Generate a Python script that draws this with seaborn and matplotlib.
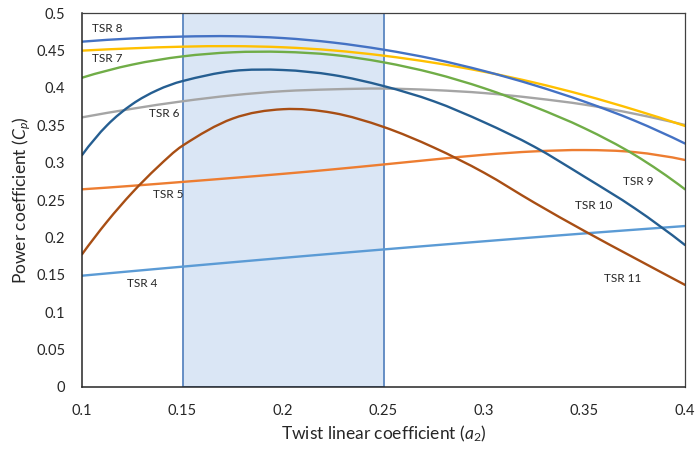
import numpy as np
import pandas as pd
import matplotlib
matplotlib.use("Agg")
import matplotlib.pyplot as plt
from matplotlib.path import Path
from matplotlib.patches import PathPatch
import seaborn as sns

# Twist linear coefficient grid (a2) and power coefficient per tip speed ratio
a2 = [0.1, 0.125, 0.15, 0.175, 0.2, 0.225, 0.25, 0.275, 0.3, 0.325, 0.35, 0.375, 0.4]
a2_fine = [0.1, 0.1125, 0.125, 0.1375, 0.15, 0.175, 0.2, 0.225, 0.25, 0.275,
           0.3, 0.325, 0.35, 0.375, 0.4]

cp_tsr4 = [0.1488, 0.1549, 0.1609, 0.1668, 0.1726, 0.1783, 0.1839, 0.1894, 0.1948,
           0.2001, 0.2053, 0.2103, 0.2152]
cp_tsr5 = [0.2643, 0.2690, 0.2742, 0.2795, 0.2850, 0.2910, 0.2975, 0.3042, 0.3105,
           0.3150, 0.3168, 0.3140, 0.3035]
cp_tsr6 = [0.3605, 0.3720, 0.3820, 0.3900, 0.3955, 0.3980, 0.3990, 0.3970, 0.3930,
           0.3862, 0.3775, 0.3652, 0.3503]
cp_tsr7 = [0.4497, 0.4528, 0.4550, 0.4557, 0.4542, 0.4500, 0.4430, 0.4335, 0.4215,
           0.4070, 0.3900, 0.3705, 0.3490]
cp_tsr8 = [0.4617, 0.4660, 0.4685, 0.4690, 0.4665, 0.4605, 0.4510, 0.4385, 0.4225,
           0.4035, 0.3815, 0.3560, 0.3255]
cp_tsr9 = [0.4135, 0.4310, 0.4420, 0.4475, 0.4480, 0.4440, 0.4341, 0.4194, 0.3995,
           0.3747, 0.3459, 0.3102, 0.2643]
cp_tsr10 = [0.3100, 0.3500, 0.3781, 0.3969, 0.4090, 0.4225, 0.4238, 0.4171, 0.4024,
            0.3820, 0.3540, 0.3213, 0.2811, 0.2389, 0.1898]
cp_tsr11 = [0.1774, 0.2212, 0.2599, 0.2937, 0.3226, 0.3589, 0.3714, 0.3664, 0.3477,
            0.3202, 0.2865, 0.2465, 0.2085, 0.1723, 0.1365]

series = [
    ("TSR 4", a2, cp_tsr4),
    ("TSR 5", a2, cp_tsr5),
    ("TSR 6", a2, cp_tsr6),
    ("TSR 7", a2, cp_tsr7),
    ("TSR 8", a2, cp_tsr8),
    ("TSR 9", a2, cp_tsr9),
    ("TSR 10", a2_fine, cp_tsr10),
    ("TSR 11", a2_fine, cp_tsr11),
]

colors = {
    "TSR 4": "#5B9BD5",
    "TSR 5": "#ED7D31",
    "TSR 6": "#A5A5A5",
    "TSR 7": "#FFC000",
    "TSR 8": "#4472C4",
    "TSR 9": "#70AD47",
    "TSR 10": "#255E91",
    "TSR 11": "#A84E14",
}

# Curve labels: (text, a2, Cp)
label_pos = [
    ("TSR 8", 0.1128, 0.479),
    ("TSR 7", 0.1127, 0.4398),
    ("TSR 6", 0.1410, 0.3663),
    ("TSR 5", 0.1428, 0.2567),
    ("TSR 4", 0.1299, 0.1390),
    ("TSR 9", 0.3766, 0.2754),
    ("TSR 10", 0.3545, 0.2420),
    ("TSR 11", 0.3691, 0.1457),
]

optimal_range = (0.15, 0.25)

df = pd.concat(
    [pd.DataFrame({"a2": x, "Cp": y, "TSR": name}) for name, x, y in series],
    ignore_index=True,
)


def smooth_path(xy):
    """Cubic Bezier path through the points (smoothed-line rendering)."""
    x, y = xy[:, 0], xy[:, 1]
    n = len(x)
    m = np.empty(n)
    m[1:-1] = (y[2:] - y[:-2]) / (x[2:] - x[:-2])
    m[0] = 2 * (y[1] - y[0]) / (x[1] - x[0]) - m[1]
    m[-1] = 2 * (y[-1] - y[-2]) / (x[-1] - x[-2]) - m[-2]
    verts = [(x[0], y[0])]
    codes = [Path.MOVETO]
    for i in range(n - 1):
        h = x[i + 1] - x[i]
        verts += [(x[i] + h / 3, y[i] + m[i] * h / 3),
                  (x[i + 1] - h / 3, y[i + 1] - m[i + 1] * h / 3),
                  (x[i + 1], y[i + 1])]
        codes += [Path.CURVE4] * 3
    return Path(verts, codes)


sns.set_theme(style="white")
plt.rcParams["font.family"] = ["Lato", "DejaVu Sans"]
plt.rcParams["mathtext.fontset"] = "custom"
plt.rcParams["mathtext.rm"] = "Lato"
plt.rcParams["mathtext.it"] = "Lato:italic"

fig = plt.figure(figsize=(6.98, 4.49), dpi=100)
ax = fig.add_axes([0.1175, 0.1381, 0.8639, 0.8329])

# Highlighted band of twist coefficients
ax.axvspan(*optimal_range, facecolor="#DAE6F5", edgecolor="#5A86C0",
           linewidth=1.3, zorder=0)

sns.lineplot(data=df, x="a2", y="Cp", hue="TSR", palette=colors,
             errorbar=None, legend=False, linewidth=1.7, ax=ax, zorder=2)

# Render each series as a smoothed line through its points
for line in list(ax.lines):
    xy = line.get_xydata()
    patch = PathPatch(smooth_path(xy), facecolor="none",
                      edgecolor=line.get_color(), linewidth=line.get_linewidth(),
                      transform=ax.transData, zorder=2, capstyle="round",
                      joinstyle="round")
    ax.add_patch(patch)
    line.set_visible(False)

for text, x, y in label_pos:
    ax.text(x, y, text, fontsize=8.5, ha="center", va="center",
            color="#262626", zorder=3)

ax.set_xlim(0.1, 0.4)
ax.set_ylim(0, 0.5)
ax.set_xticks(np.arange(0.1, 0.4001, 0.05))
ax.set_xticklabels(["0.1", "0.15", "0.2", "0.25", "0.3", "0.35", "0.4"])
ax.set_yticks(np.arange(0, 0.5001, 0.05))
ax.set_yticklabels(["0", "0.05", "0.1", "0.15", "0.2", "0.25", "0.3", "0.35",
                    "0.4", "0.45", "0.5"])
ax.tick_params(axis="x", direction="in", length=4, width=1, color="#404040",
               labelsize=10.5, pad=12, labelcolor="#262626")
ax.tick_params(axis="y", length=0, labelsize=10.5, pad=12, labelcolor="#262626")

for side in ["left", "bottom"]:
    ax.spines[side].set_color("#262626")
    ax.spines[side].set_linewidth(1.1)
for side in ["top", "right"]:
    ax.spines[side].set_color("#404040")
    ax.spines[side].set_linewidth(0.9)

ax.set_xlabel(r"Twist linear coefficient ($a_2$)", fontsize=12.5,
              color="#262626", labelpad=4)
ax.set_ylabel(r"Power coefficient ($C_p$)", fontsize=12.5,
              color="#262626", labelpad=2)

fig.savefig("out.png", dpi=100)
